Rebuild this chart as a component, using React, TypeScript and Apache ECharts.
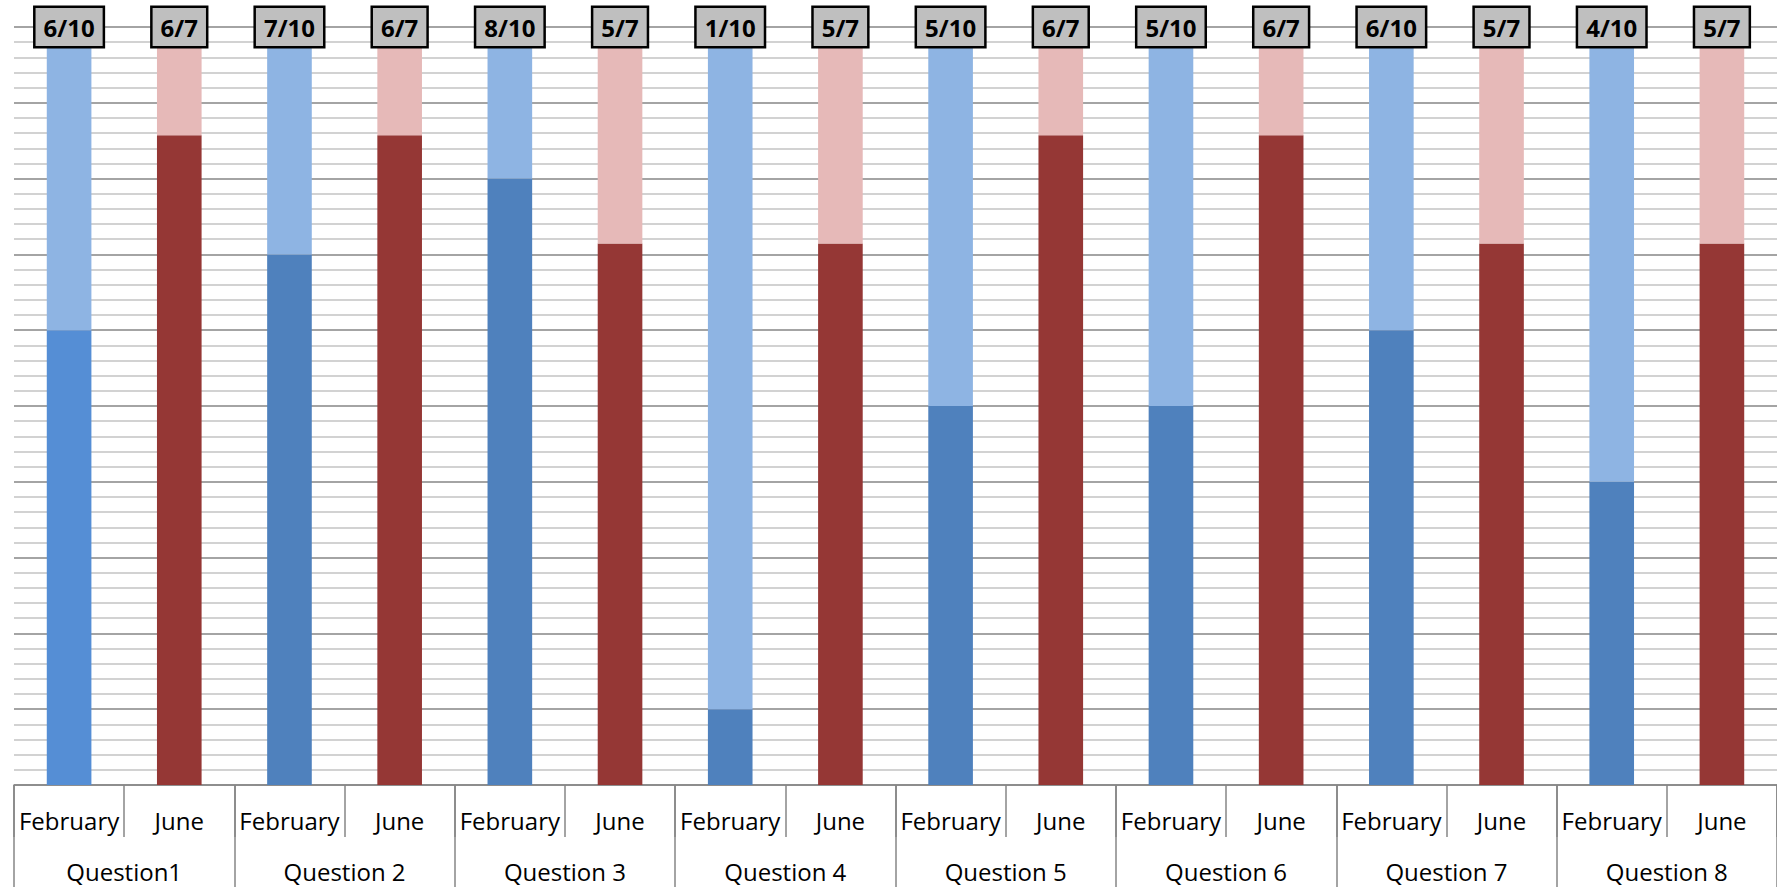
import React, { useEffect, useRef } from "react";
import * as echarts from "echarts";

const questions = ["Question1", "Question 2", "Question 3", "Question 4", "Question 5", "Question 6", "Question 7", "Question 8"];
const periods = ["February", "June"];
const correctFebruary = [6, 7, 8, 1, 5, 5, 6, 4];
const correctJune = [6, 6, 5, 5, 6, 6, 5, 5];
const totalFebruary = 10;
const totalJune = 7;

const FONT = "'Open Sans', Carlito, Lato, sans-serif";
const FEB_DARK = "#4F81BD";
const FEB_DARK_FIRST = "#558ED5";
const FEB_LIGHT = "#8EB4E3";
const JUNE_DARK = "#953735";
const JUNE_LIGHT = "#E6B9B8";
const GRID_LIGHT = "#C3C3C3";
const GRID_DARK = "#868686";

export default function App() {
  const ref = useRef<HTMLDivElement>(null);

  useEffect(() => {
    if (!ref.current) return;
    const chart = echarts.init(ref.current, null, { renderer: "svg" });

    const categories: string[] = [];
    const correctData: any[] = [];
    const restData: any[] = [];
    questions.forEach((q, qi) => {
      periods.forEach((p, pi) => {
        categories.push(p);
        const correct = pi === 0 ? correctFebruary[qi] : correctJune[qi];
        const total = pi === 0 ? totalFebruary : totalJune;
        const pct = (correct / total) * 100;
        const dark = pi === 0 ? (qi === 0 ? FEB_DARK_FIRST : FEB_DARK) : JUNE_DARK;
        const light = pi === 0 ? FEB_LIGHT : JUNE_LIGHT;
        correctData.push({ value: pct, itemStyle: { color: dark } });
        restData.push({ value: 100 - pct, name: `${correct}/${total}`, itemStyle: { color: light } });
      });
    });

    const gridColors = Array.from({ length: 51 }, (_, i) => (i % 5 === 0 ? GRID_DARK : GRID_LIGHT));

    chart.setOption({
      animation: false,
      grid: { left: 14, right: -6, top: 27, bottom: 102, containLabel: false },
      xAxis: [
        {
          type: "category",
          data: categories,
          position: "bottom",
          axisLine: { show: true, lineStyle: { color: GRID_DARK, width: 1.5 } },
          axisTick: { show: true, interval: 0, length: 52, lineStyle: { color: GRID_DARK, width: 1.5 } },
          axisLabel: {
            interval: 0,
            margin: 35,
            verticalAlign: "middle",
            color: "#000",
            fontFamily: FONT,
            fontSize: 24,
          },
          splitLine: { show: false },
        },
        {
          type: "category",
          data: questions,
          position: "bottom",
          axisLine: { show: false },
          axisTick: { show: true, interval: 0, length: 102, lineStyle: { color: GRID_DARK, width: 1.5 } },
          axisLabel: {
            interval: 0,
            margin: 86,
            verticalAlign: "middle",
            color: "#000",
            fontFamily: FONT,
            fontSize: 24,
          },
          splitLine: { show: false },
        },
      ],
      yAxis: {
        type: "value",
        min: 0,
        max: 100,
        interval: 2,
        axisLine: { show: false },
        axisTick: { show: false },
        axisLabel: { show: false },
        splitLine: { show: true, lineStyle: { color: gridColors, width: 1.5 } },
      },
      series: [
        {
          type: "bar",
          stack: "total",
          xAxisIndex: 0,
          barWidth: "40.5%",
          data: correctData,
        },
        {
          type: "bar",
          stack: "total",
          xAxisIndex: 0,
          barWidth: "40.5%",
          data: restData,
          label: {
            show: true,
            position: ["50%", 0],
            align: "center",
            verticalAlign: "middle",
            formatter: (p: any) => p.name,
            fontFamily: FONT,
            fontWeight: "bold",
            fontSize: 24,
            color: "#000",
            backgroundColor: "#BFBFBF",
            borderColor: "#000",
            borderWidth: 2.5,
            padding: [8, 8, 6, 8],
          },
        },
      ],
    });

    return () => chart.dispose();
  }, []);

  return (
    <div
      ref={ref}
      style={{ position: "fixed", left: 0, top: 0, width: "1777px", height: "887px", background: "#fff" }}
    />
  );
}
